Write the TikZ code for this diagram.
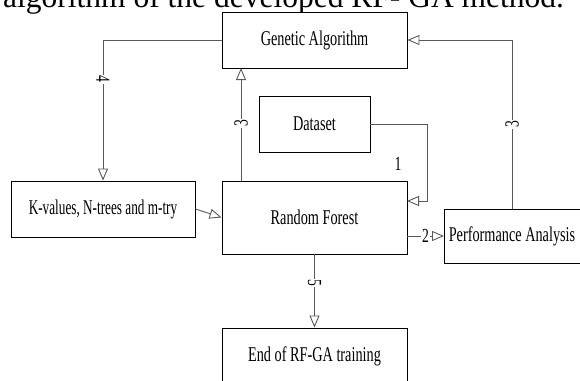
\documentclass[tikz,border=0pt]{standalone}
\usepackage{fontspec}
\setmainfont{Liberation Serif}
\newfontfamily\narrowfont[FakeStretch=0.68]{Liberation Serif}
\newfontfamily\narrowerfont[FakeStretch=0.63]{Liberation Serif}
\usetikzlibrary{arrows.meta}
\tikzset{
  box/.style={draw=black, line width=0.9pt, fill=white, inner sep=0pt,
    font=\narrowfont\fontsize{21}{24}\selectfont},
  conn/.style={draw=black!65, line width=0.9pt,
    -{Triangle[open,length=12pt,width=10pt,line width=0.9pt]}},
  lbl/.style={fill=white, inner sep=1pt, font=\narrowfont\fontsize{20}{23}\selectfont},
}
\begin{document}
\begin{tikzpicture}[x=1pt,y=-1pt]
\path[use as bounding box] (0,0) rectangle (580,380);
\clip (0,0) rectangle (580,380);
\node[anchor=base west, inner sep=0pt, font=\fontsize{31.5}{36}\selectfont] (cap) at (3,7) {algorithm of the developed RF- GA method.};
\node[box, minimum width=185pt, minimum height=56pt] (ga) at (314.5,40) {Genetic Algorithm};
\node[box, minimum width=111pt, minimum height=56pt] (ds) at (314.5,124) {Dataset};
\node[box, minimum width=184pt, minimum height=56pt, font=\narrowerfont\fontsize{21}{24}\selectfont] (kv) at (103,209) {K-values, N-trees and m-try};
\node[box, minimum width=185pt, minimum height=73pt] (rf) at (314.5,217.5) {Random Forest};
\node[box, minimum width=136pt, minimum height=54pt] (pa) at (512,236) {Performance Analysis};
\node[box, minimum width=185pt, minimum height=56pt] (end) at (314.5,356) {End of RF-GA training};
\coordinate (dsc) at (427,124);
\coordinate (dsd) at (427,201);
\coordinate (rfin) at (407,201);
\coordinate (rftop) at (241,181);
\coordinate (gabot) at (241,68);
\coordinate (rfout) at (407,236);
\coordinate (paleft) at (444,236);
\coordinate (pacorner) at (512,40);
% connectors
\draw[conn] (ga.west) -| node[lbl, pos=0.64, rotate=-90] {4} (kv.north);
\draw[conn] (rftop) -- node[lbl, pos=0.51, rotate=90] {3} (gabot);
\draw[conn] (ds.east) -- (dsc) -- (dsd) -- (rfin);
\draw[conn] (kv.east) -- (rf.west);
\draw[conn] (rfout) -- node[lbl, pos=0.5] {2} (paleft);
\draw[conn] (pa.north) -- node[lbl, pos=0.5, rotate=90] {3} (pacorner) -- (ga.east);
\draw[conn] (rf.south) -- node[lbl, pos=0.39, rotate=-90] {5} (end.north);
\node[lbl, fill=none] (one) at (398,164) {1};
\end{tikzpicture}
\end{document}
